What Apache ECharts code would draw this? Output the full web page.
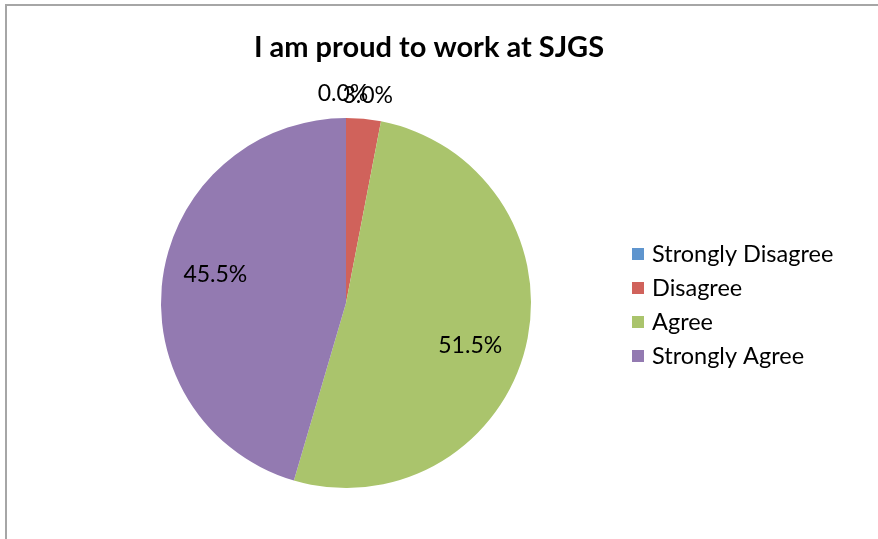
<!DOCTYPE html>
<html>
<head>
<meta charset="utf-8">
<script src="https://cdn.jsdelivr.net/npm/echarts@6/dist/echarts.min.js"></script>
<style>
  html, body { margin: 0; padding: 0; background: #fff; }
  #frame { position: absolute; left: 5px; top: 4px; width: 873px; height: 535px;
           border-top: 2px solid #a6a6a6; border-left: 2px solid #a6a6a6; box-sizing: border-box; }
  #chart { position: absolute; left: 0; top: 0; width: 878px; height: 539px; }
</style>
</head>
<body>
<div id="frame"></div>
<div id="chart"></div>
<script>
// answers to "I am proud to work at SJGS"
var categories = ['Strongly Disagree', 'Disagree', 'Agree', 'Strongly Agree'];
var counts = [0, 1, 17, 15];
var colors = ['#5f95ce', '#d0625b', '#aac46c', '#937ab1'];

// which labels sit inside the slice, which above the pie
var innerLabels = [2, 3];
var outerLabels = [0, 1];
// small nudges so the labels land where Excel put them
var labelOffsets = [[-4, 0], [0, 0], [-6, 11], [2, -9]];

var total = counts.reduce(function (a, b) { return a + b; }, 0);
var FONT = 'Lato';

function pctText(p) {
    return (p.value / total * 100).toFixed(1) + '%';
}

function makeData(showIdx, transparent) {
    var res = [];
    for (var i = 0; i < categories.length; i++) {
        res.push({
            name: categories[i],
            value: counts[i],
            itemStyle: { color: transparent ? 'rgba(0,0,0,0)' : colors[i] },
            label: { show: showIdx.indexOf(i) >= 0, offset: labelOffsets[i] }
        });
    }
    return res;
}

var labelStyle = {
    position: 'inside',
    formatter: pctText,
    color: '#000',
    fontFamily: FONT,
    fontSize: 23
};

var myChart = echarts.init(document.getElementById('chart'));
myChart.setOption({
    animation: false,
    title: {
        text: 'I am proud to work at SJGS',
        left: 424,
        top: 28,
        textAlign: 'center',
        textStyle: { fontFamily: FONT, fontWeight: 'bold', fontSize: 29, color: '#000' }
    },
    legend: {
        orient: 'vertical',
        left: 632,
        top: 242,
        padding: 0,
        data: categories,
        icon: 'rect',
        itemWidth: 12,
        itemHeight: 12,
        itemGap: 10,
        textStyle: { fontFamily: FONT, fontSize: 23.5, lineHeight: 24, color: '#000', padding: [0, 0, 0, 3] }
    },
    series: [
        {
            type: 'pie',
            center: [346, 303],
            radius: [0, 185],
            startAngle: 90,
            clockwise: true,
            avoidLabelOverlap: false,
            label: { show: false },
            labelLine: { show: false },
            emphasis: { disabled: true },
            data: makeData([], false)
        },
        {
            // transparent ring, only carries the labels inside the slices
            type: 'pie',
            center: [346, 303],
            radius: [77, 185],
            silent: true,
            avoidLabelOverlap: false,
            label: labelStyle,
            labelLine: { show: false },
            data: makeData(innerLabels, true)
        },
        {
            // transparent ring above the pie for the small slices;
            // minAngle keeps the empty slice so its 0.0% label is drawn,
            // and the two labels are allowed to overlap like in Excel
            type: 'pie',
            center: [346, 303],
            radius: [188, 224],
            silent: true,
            minAngle: 0.5,
            avoidLabelOverlap: false,
            labelLayout: { hideOverlap: false },
            label: labelStyle,
            labelLine: { show: false },
            data: makeData(outerLabels, true)
        }
    ]
});
</script>
</body>
</html>
